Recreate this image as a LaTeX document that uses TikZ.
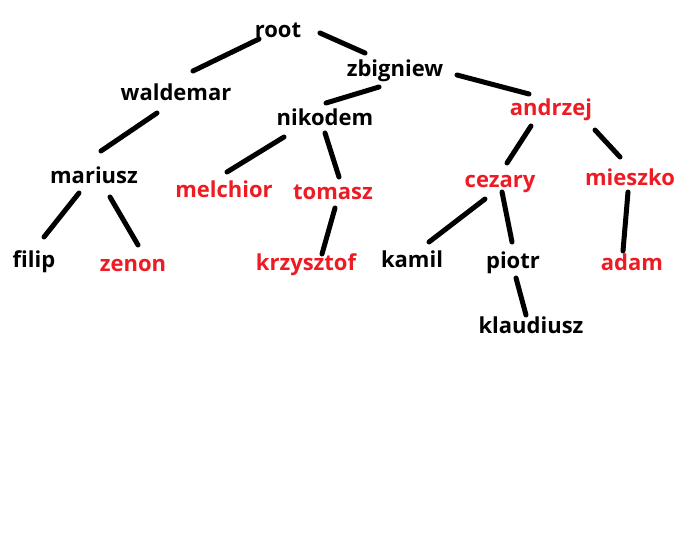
\documentclass[tikz,border=0pt]{standalone}
\usepackage{fontspec}
\setmainfont{Open Sans}
\definecolor{pred}{RGB}{237,28,36}
\tikzset{
  nm/.style={anchor=base, inner sep=0pt, font=\fontsize{22}{26}\selectfont\bfseries},
  bl/.style={nm, text=black},
  rd/.style={nm, text=pred},
  edge/.style={line width=5pt, line cap=round, black}
}
\begin{document}
\begin{tikzpicture}[x=1pt,y=-1pt]
\useasboundingbox[fill=white] (0,0) rectangle (692,554);
% nodes
\node[bl] (root) at (278,37) {root};
\node[bl] (waldemar) at (176,100) {waldemar};
\node[bl] (zbigniew) at (395,76) {zbigniew};
\node[bl] (nikodem) at (325,125) {nikodem};
\node[rd] (andrzej) at (551,115) {andrzej};
\node[bl] (mariusz) at (94,183) {mariusz};
\node[rd] (melchior) at (224,197) {melchior};
\node[rd] (tomasz) at (333,199) {tomasz};
\node[rd] (cezary) at (500,187) {cezary};
\node[rd] (mieszko) at (630,185) {mieszko};
\node[bl] (filip) at (34,267) {filip};
\node[rd] (zenon) at (133,271) {zenon};
\node[rd] (krzysztof) at (306,270) {krzysztof};
\node[bl] (kamil) at (412,267) {kamil};
\node[bl] (piotr) at (513,268) {piotr};
\node[rd] (adam) at (632,270) {adam};
\node[bl] (klaudiusz) at (531,333) {klaudiusz};
% connector ends
\coordinate (e1a) at (259,39);  \coordinate (e1b) at (193,71);
\coordinate (e2a) at (320,33);  \coordinate (e2b) at (365,53);
\coordinate (e3a) at (157,113); \coordinate (e3b) at (101,151);
\coordinate (e4a) at (379,87);  \coordinate (e4b) at (326,103);
\coordinate (e5a) at (284,137); \coordinate (e5b) at (227,172);
\coordinate (e6a) at (325,133); \coordinate (e6b) at (339,177);
\coordinate (e7a) at (457,75);  \coordinate (e7b) at (529,94);
\coordinate (e8a) at (531,126); \coordinate (e8b) at (507,163);
\coordinate (e9a) at (595,130); \coordinate (e9b) at (620,157);
\coordinate (e10a) at (79,193); \coordinate (e10b) at (44,237);
\coordinate (e11a) at (110,197); \coordinate (e11b) at (138,245);
\coordinate (e12a) at (335,208); \coordinate (e12b) at (322,254);
\coordinate (e13a) at (485,199); \coordinate (e13b) at (429,242);
\coordinate (e14a) at (502,192); \coordinate (e14b) at (512,242);
\coordinate (e15a) at (516,278); \coordinate (e15b) at (526,315);
\coordinate (e16a) at (628,192); \coordinate (e16b) at (623,251);
% connectors
\foreach \i in {1,...,16} {\draw[edge] (e\i a) -- (e\i b);}
\end{tikzpicture}
\end{document}
